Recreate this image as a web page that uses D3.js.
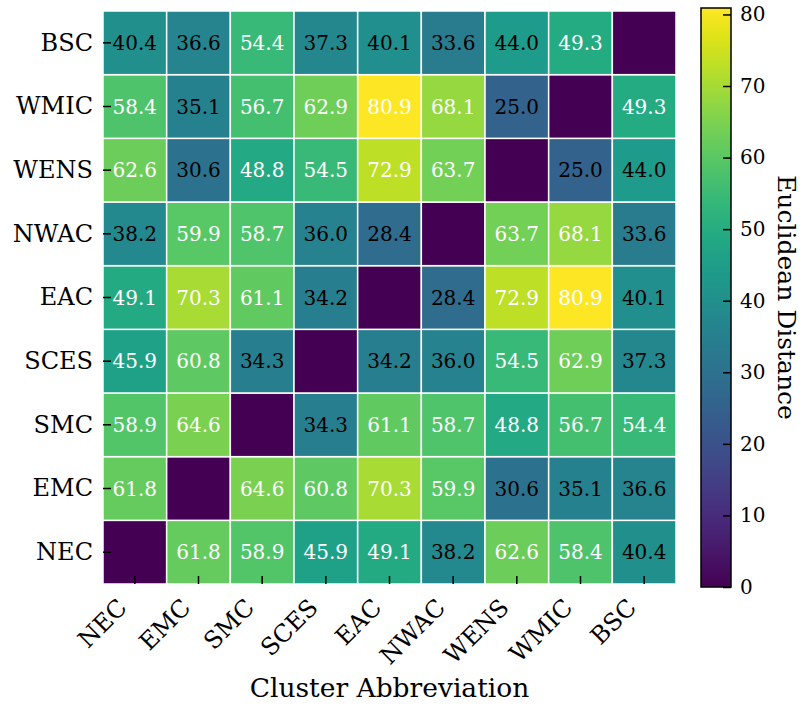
<!DOCTYPE html>
<html>
<head>
<meta charset="utf-8">
<script src="https://cdn.jsdelivr.net/npm/d3@7"></script>
<style>
  body { margin: 0; background: #fff; }
  svg text { font-family: "DejaVu Serif", serif; }
</style>
</head>
<body>
<svg id="chart" width="802" height="706"></svg>
<script>
// Cluster order along both axes
const clusters = ["NEC", "EMC", "SMC", "SCES", "EAC", "NWAC", "WENS", "WMIC", "BSC"];

// Pairwise Euclidean distances, one row per cluster (same order as above)
const distNEC  = [0.0, 61.8, 58.9, 45.9, 49.1, 38.2, 62.6, 58.4, 40.4];
const distEMC  = [61.8, 0.0, 64.6, 60.8, 70.3, 59.9, 30.6, 35.1, 36.6];
const distSMC  = [58.9, 64.6, 0.0, 34.3, 61.1, 58.7, 48.8, 56.7, 54.4];
const distSCES = [45.9, 60.8, 34.3, 0.0, 34.2, 36.0, 54.5, 62.9, 37.3];
const distEAC  = [49.1, 70.3, 61.1, 34.2, 0.0, 28.4, 72.9, 80.9, 40.1];
const distNWAC = [38.2, 59.9, 58.7, 36.0, 28.4, 0.0, 63.7, 68.1, 33.6];
const distWENS = [62.6, 30.6, 48.8, 54.5, 72.9, 63.7, 0.0, 25.0, 44.0];
const distWMIC = [58.4, 35.1, 56.7, 62.9, 80.9, 68.1, 25.0, 0.0, 49.3];
const distBSC  = [40.4, 36.6, 54.4, 37.3, 40.1, 33.6, 44.0, 49.3, 0.0];

const colorbarTicks = [0, 10, 20, 30, 40, 50, 60, 70, 80];

const rows = [distNEC, distEMC, distSMC, distSCES, distEAC, distNWAC, distWENS, distWMIC, distBSC];

const cells = [];
rows.forEach((row, i) => row.forEach((v, j) => {
  cells.push({ row: clusters[i], col: clusters[j], value: v, diag: i === j });
}));

const vmax = d3.max(cells, d => d.value);

const svg = d3.select("#chart");
const plot = { left: 103, top: 11, width: 573, height: 573 };

const x = d3.scaleBand().domain(clusters).range([plot.left, plot.left + plot.width]);
const y = d3.scaleBand().domain(clusters.slice().reverse()).range([plot.top, plot.top + plot.height]);
const color = d3.scaleSequential(d3.interpolateViridis).domain([0, vmax]);

// Heatmap cells
svg.append("g").selectAll("rect").data(cells).join("rect")
  .attr("x", d => x(d.col))
  .attr("y", d => y(d.row))
  .attr("width", x.bandwidth())
  .attr("height", y.bandwidth())
  .attr("fill", d => color(d.value))
  .attr("stroke", "#fff")
  .attr("stroke-width", 1.5);

// Value annotations (diagonal left blank)
svg.append("g").selectAll("text").data(cells.filter(d => !d.diag)).join("text")
  .attr("x", d => x(d.col) + x.bandwidth() / 2)
  .attr("y", d => y(d.row) + y.bandwidth() / 2)
  .attr("dy", "0.36em")
  .attr("text-anchor", "middle")
  .attr("font-size", 20)
  .attr("fill", d => d.value > 45 ? "#fff" : "#000")
  .text(d => d.value.toFixed(1));

// Axes with inward ticks
const tickLen = 8;
const yAxis = svg.append("g").attr("transform", `translate(${plot.left},0)`)
  .call(d3.axisLeft(y).tickSize(-tickLen).tickPadding(10));
yAxis.select(".domain").remove();
yAxis.selectAll("line").attr("stroke", "#000").attr("stroke-width", 1.5);
yAxis.selectAll("text").attr("font-size", 24).attr("fill", "#000")
  .attr("font-family", "DejaVu Serif");

const xAxis = svg.append("g").attr("transform", `translate(0,${plot.top + plot.height})`)
  .call(d3.axisBottom(x).tickSize(-tickLen).tickFormat(""));
xAxis.select(".domain").remove();
xAxis.selectAll("line").attr("stroke", "#000").attr("stroke-width", 1.5);

// Rotated column labels
svg.append("g").selectAll("text").data(clusters).join("text")
  .attr("transform", d => `translate(${x(d) + x.bandwidth() / 2 - 6.5},${plot.top + plot.height + 25}) rotate(-45)`)
  .attr("text-anchor", "end")
  .attr("font-size", 24)
  .text(d => d);

svg.append("text")
  .attr("x", plot.left + plot.width / 2)
  .attr("y", 697)
  .attr("text-anchor", "middle")
  .attr("font-size", 26.5)
  .text("Cluster Abbreviation");

// Colorbar
const cb = { left: 701, top: 8, width: 30, height: 579 };
const cbScale = d3.scaleLinear().domain([0, vmax]).range([cb.top + cb.height, cb.top]);

const defs = svg.append("defs");
const grad = defs.append("linearGradient").attr("id", "viridis-grad")
  .attr("x1", 0).attr("y1", 1).attr("x2", 0).attr("y2", 0);
d3.range(0, 1.0001, 0.05).forEach(t => {
  grad.append("stop").attr("offset", t).attr("stop-color", d3.interpolateViridis(t));
});

svg.append("rect")
  .attr("x", cb.left).attr("y", cb.top)
  .attr("width", cb.width).attr("height", cb.height)
  .attr("fill", "url(#viridis-grad)")
  .attr("stroke", "#000").attr("stroke-width", 1.5);

const cbAxis = svg.append("g").attr("transform", `translate(${cb.left + cb.width},0)`)
  .call(d3.axisRight(cbScale).tickValues(colorbarTicks).tickSize(-tickLen).tickPadding(9));
cbAxis.select(".domain").remove();
cbAxis.selectAll("line").attr("stroke", "#000").attr("stroke-width", 1.5);
cbAxis.selectAll("text").attr("font-size", 20).attr("fill", "#000")
  .attr("font-family", "DejaVu Serif");

svg.append("text")
  .attr("transform", `translate(778,${cb.top + cb.height / 2}) rotate(90)`)
  .attr("text-anchor", "middle")
  .attr("font-size", 25)
  .text("Euclidean Distance");
</script>
</body>
</html>
